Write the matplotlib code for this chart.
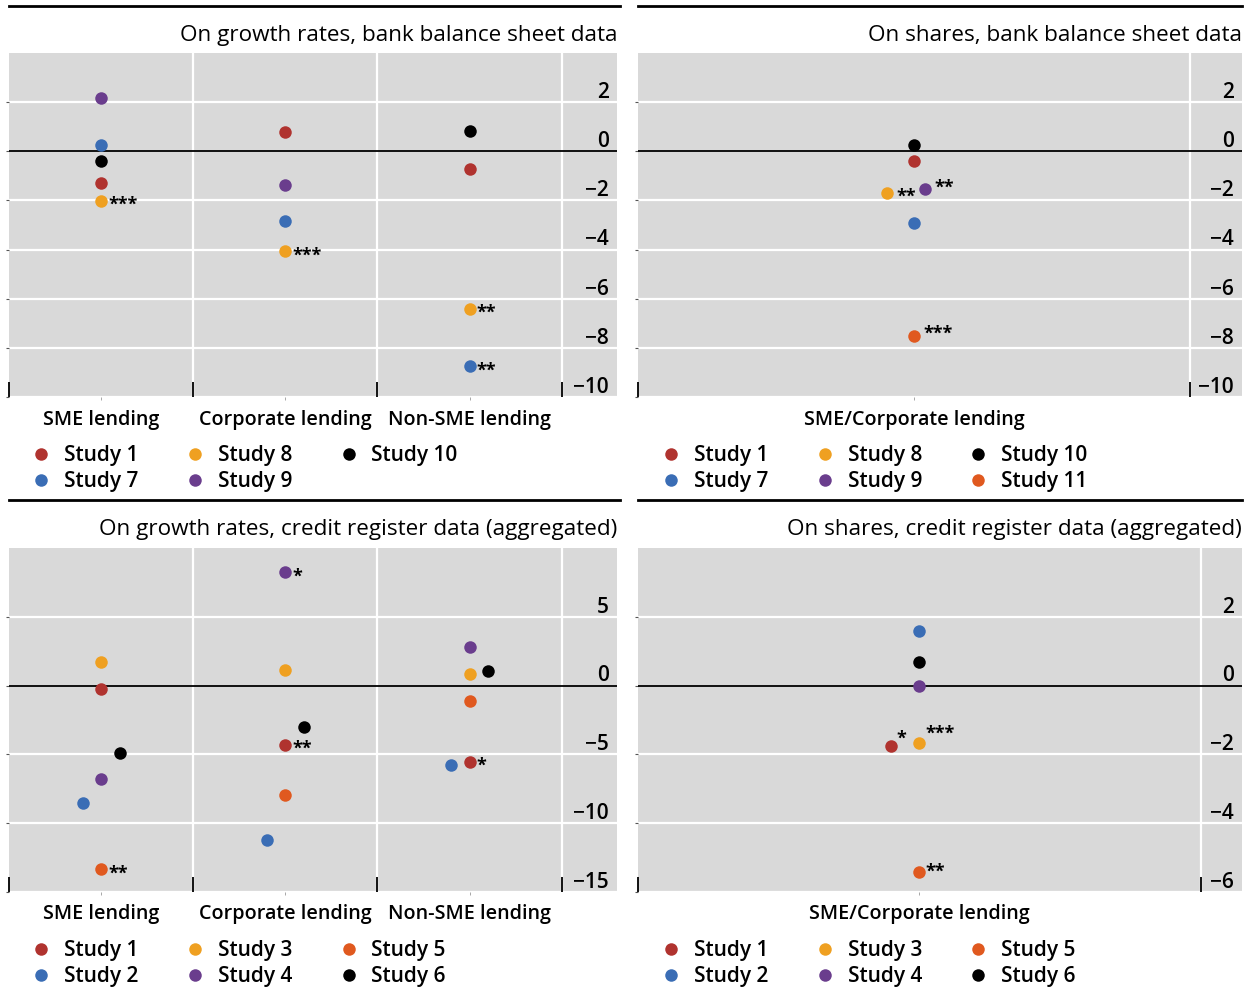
import numpy as np
import matplotlib
matplotlib.use("Agg")
import matplotlib.pyplot as plt
from matplotlib.lines import Line2D

plt.rcParams["font.family"] = ["Open Sans", "DejaVu Sans"]
W, H = 1252, 990

RED = "#B0332F"
BLUE = "#3A6DB5"
ORANGE = "#EFA021"
PURPLE = "#6A3D8D"
BLACK = "#000000"
VERMILION = "#E0591F"
GREY = "#D9D9D9"
nan = np.nan

# ---- data -----------------------------------------------------------------
three_cats = ["SME lending", "Corporate lending", "Non-SME lending"]
one_cat = ["SME/Corporate lending"]

# on growth rates, bank balance sheet data
bg_study1 = [-1.30, 0.80, -0.74]
bg_study7 = [0.27, -2.85, -8.75]
bg_study8 = [-2.02, -4.07, -6.42]
bg_study9 = [2.15, -1.39, nan]
bg_study10 = [-0.39, nan, 0.81]
bg_stars7 = ["", "", "**"]
bg_stars8 = ["***", "***", "**"]

# on shares, bank balance sheet data
bs_study1 = [-0.39]
bs_study7 = [-2.93]
bs_study8 = [-1.69]
bs_study9 = [-1.52]
bs_study10 = [0.24]
bs_study11 = [-7.52]
bs_stars8 = ["**"]
bs_stars9 = ["**"]
bs_stars11 = ["***"]

# on growth rates, credit register data (aggregated)
cg_study1 = [-0.24, -4.29, -5.53]
cg_study2 = [-8.50, -11.20, -5.77]
cg_study3 = [1.72, 1.12, 0.85]
cg_study4 = [-6.80, 8.25, 2.79]
cg_study5 = [-13.35, -7.93, -1.14]
cg_study6 = [-4.92, -3.00, 1.09]
cg_stars1 = ["", "**", "*"]
cg_stars4 = ["", "*", ""]
cg_stars5 = ["**", "", ""]

# on shares, credit register data (aggregated)
cs_study1 = [-1.76]
cs_study2 = [1.59]
cs_study3 = [-1.68]
cs_study4 = [0.0]
cs_study5 = [-5.42]
cs_study6 = [0.68]
cs_stars1 = ["*"]
cs_stars3 = ["***"]
cs_stars5 = ["**"]

fig = plt.figure(figsize=(W / 100, H / 100), dpi=100)


def px_axes(x0, y0, x1, y1):
    return fig.add_axes([x0 / W, 1 - y1 / H, (x1 - x0) / W, (y1 - y0) / H])


def panel(ax, title, cats, series, ylim, ticks, xmax, legend_x, legend_y, star_offsets=None):
    star_offsets = star_offsets or {}
    n = len(cats)
    ax.set_facecolor(GREY)
    ax.set_xlim(-0.5, xmax)
    ax.set_ylim(*ylim)
    for s in ax.spines.values():
        s.set_visible(False)
    for t in ticks:
        if t != 0:
            ax.axhline(t, color="white", lw=1.6, zorder=1)
    for b in np.arange(n) + 0.5:
        ax.axvline(b, color="white", lw=1.6, zorder=1)
    ax.axhline(0, color="black", lw=1.3, zorder=2)

    # ticks: black marks at category boundaries, small grey ones at centres
    ax.set_xticks(np.arange(n + 1) - 0.5, [""] * (n + 1))
    ax.tick_params(axis="x", which="major", direction="in", length=11, width=1.3, color="black")
    ax.set_xticks(np.arange(n), cats, minor=True)
    ax.tick_params(axis="x", which="minor", direction="out", length=2, color="#999999",
                   pad=7, labelsize=14.2)
    for lab in ax.get_xticklabels(minor=True):
        lab.set_fontweight("semibold")
    ax.set_yticks(ticks, [""] * len(ticks))
    ax.tick_params(axis="y", length=2, color="#555555")
    for t in ticks:
        ax.annotate(f"{t:g}".replace("-", "\u2212"), (1, t), xycoords=("axes fraction", "data"),
                    xytext=(-6, 3), textcoords="offset points", ha="right", va="baseline",
                    fontsize=15, fontweight="semibold")

    handles = []
    for label, color, vals, stars, shift in series:
        x = np.arange(n) + shift
        ax.plot(x, vals, "o", ms=9, color=color, mec="none", zorder=4)
        handles.append(Line2D([], [], ls="none", marker="o", ms=9, color=color, mec="none", label=label))
        if stars:
            for xi, v, s in zip(x, vals, stars):
                if s:
                    dx, dy = star_offsets.get((label, s), (5, -3))
                    ax.annotate(s, (xi, v), xytext=(dx, dy), textcoords="offset points",
                                ha="left", va="center", fontsize=13, fontweight="bold", zorder=5)

    ax.set_title(title, loc="right", fontsize=16.2, pad=9)
    fig.legend(handles=handles, loc="upper left", bbox_to_anchor=(legend_x / W, 1 - legend_y / H),
               ncol=3, frameon=False, handlelength=1.0, handletextpad=0.6,
               columnspacing=2.2, labelspacing=0.24, borderpad=0, borderaxespad=0,
               prop={"weight": "semibold", "size": 15})


ax1 = px_axes(9, 53, 617, 397)
panel(ax1, "On growth rates, bank balance sheet data", three_cats,
      [("Study 1", RED, bg_study1, None, 0), ("Study 7", BLUE, bg_study7, bg_stars7, 0),
       ("Study 8", ORANGE, bg_study8, bg_stars8, 0), ("Study 9", PURPLE, bg_study9, None, 0),
       ("Study 10", BLACK, bg_study10, None, 0)],
      (-10, 4), [2, 0, -2, -4, -6, -8, -10], 2.8, 31, 445)

ax2 = px_axes(638, 53, 1242, 397)
panel(ax2, "On shares, bank balance sheet data", one_cat,
      [("Study 1", RED, bs_study1, None, 0), ("Study 7", BLUE, bs_study7, None, 0),
       ("Study 8", ORANGE, bs_study8, bs_stars8, -0.049), ("Study 9", PURPLE, bs_study9, bs_stars9, 0.02),
       ("Study 10", BLACK, bs_study10, None, 0), ("Study 11", VERMILION, bs_study11, bs_stars11, 0)],
      (-10, 4), [2, 0, -2, -4, -6, -8, -10], 0.594, 661, 445,
      {("Study 8", "**"): (7, -3), ("Study 9", "**"): (7, 1), ("Study 11", "***"): (7, 2)})

ax3 = px_axes(9, 548, 617, 892)
panel(ax3, "On growth rates, credit register data (aggregated)", three_cats,
      [("Study 1", RED, cg_study1, cg_stars1, 0), ("Study 2", BLUE, cg_study2, None, -0.1),
       ("Study 3", ORANGE, cg_study3, None, 0), ("Study 4", PURPLE, cg_study4, cg_stars4, 0),
       ("Study 5", VERMILION, cg_study5, cg_stars5, 0), ("Study 6", BLACK, cg_study6, None, 0.1)],
      (-15, 10), [5, 0, -5, -10, -15], 2.8, 31, 940)

ax4 = px_axes(638, 548, 1242, 892)
panel(ax4, "On shares, credit register data (aggregated)", one_cat,
      [("Study 1", RED, cs_study1, cs_stars1, -0.05), ("Study 2", BLUE, cs_study2, None, 0),
       ("Study 3", ORANGE, cs_study3, cs_stars3, 0), ("Study 4", PURPLE, cs_study4, None, 0),
       ("Study 5", VERMILION, cs_study5, cs_stars5, 0), ("Study 6", BLACK, cs_study6, None, 0)],
      (-6, 4), [2, 0, -2, -4, -6], 0.573, 661, 940,
      {("Study 1", "*"): (4, 5), ("Study 3", "***"): (4, 7), ("Study 5", "**"): (4, 0)})

# black rules above each panel
for y in (6, 500):
    fig.add_artist(Line2D([9 / W, 620 / W], [1 - y / H] * 2, color="black", lw=2))
    fig.add_artist(Line2D([638 / W, 1242 / W], [1 - y / H] * 2, color="black", lw=2))

fig.savefig("out.png", dpi=100)
